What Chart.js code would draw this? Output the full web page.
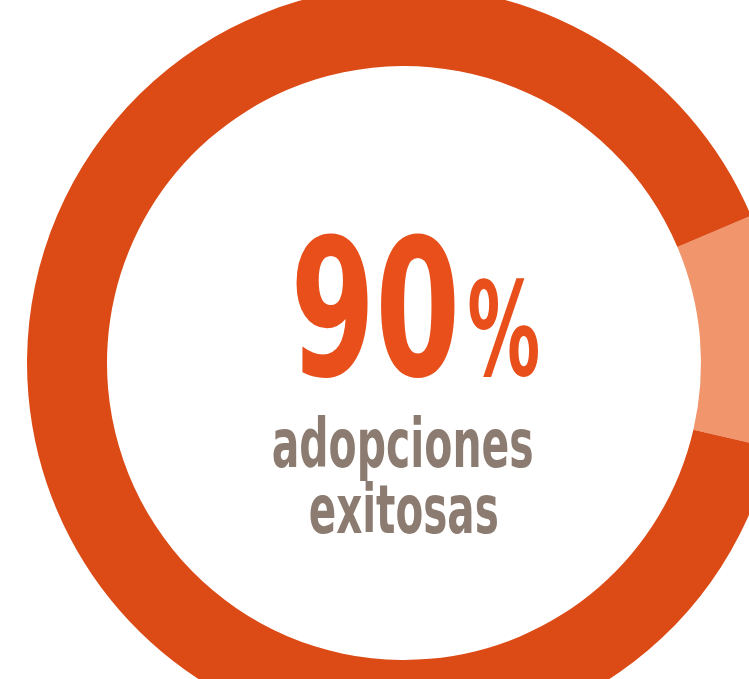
<!DOCTYPE html>
<html><head><meta charset="utf-8">
<script src="https://cdn.jsdelivr.net/npm/chart.js@4"></script>
<style>
html,body{margin:0;padding:0;background:#fff;}
#wrap{position:relative;width:749px;height:679px;overflow:hidden;background:#fff;}
#box{position:absolute;left:4px;top:-37px;width:800px;height:800px;}
#ov{position:absolute;left:0;top:0;}
</style></head><body>
<div id="wrap">
  <div id="box"><canvas id="c" width="800" height="800"></canvas></div>
  <svg id="ov" width="749" height="679" xmlns="http://www.w3.org/2000/svg"></svg>
</div>
<script>
// ---- data ----
const labels = ['Otras', 'Adopciones exitosas'];
const values = [10, 90];
const colors = ['#F0956C', '#DC4A16'];
const bigValue = '90';
const bigUnit = '%';
const captionLines = ['adopciones', 'exitosas'];

// ---- chart ----
new Chart(document.getElementById('c'), {
  type: 'doughnut',
  data: {
    labels: labels,
    datasets: [{
      data: values,
      backgroundColor: colors,
      borderWidth: 0,
      hoverOffset: 0
    }]
  },
  options: {
    responsive: false,
    animation: false,
    events: [],
    rotation: 67,
    radius: 377,
    cutout: (297 / 377 * 100) + '%',
    layout: { padding: 0 },
    plugins: { legend: { display: false }, tooltip: { enabled: false } }
  }
});

// ---- centre text (real SVG text, fitted to the reference ink boxes) ----
const NS = 'http://www.w3.org/2000/svg';
const ov = document.getElementById('ov');
const FAM = '"Liberation Sans Narrow", "DejaVu Sans Condensed", sans-serif';
const meas = document.createElement('canvas').getContext('2d');
function ink(text, fs) {
  meas.font = 'bold ' + fs + 'px ' + FAM;
  const m = meas.measureText(text);
  return { l: m.actualBoundingBoxLeft, r: m.actualBoundingBoxRight,
           a: m.actualBoundingBoxAscent, d: m.actualBoundingBoxDescent };
}
function put(text, fs, color, left, right, baseline) {
  const m = ink(text, fs);
  const sx = (right - left) / (m.l + m.r);
  const x = left + m.l * sx;
  const t = document.createElementNS(NS, 'text');
  t.setAttribute('transform', 'translate(' + x + ',' + baseline + ') scale(' + sx + ',1)');
  t.setAttribute('font-family', FAM);
  t.setAttribute('font-weight', 'bold');
  t.setAttribute('font-size', fs);
  t.setAttribute('fill', color);
  t.textContent = text;
  ov.appendChild(t);
}
function boxFit(text, color, left, right, top, bottom) {
  const m = ink(text, 100);
  const fs = 100 * (bottom - top) / (m.a + m.d);
  const k = fs / 100;
  put(text, fs, color, left, right, top + m.a * k);
}
// big number and unit
boxFit(bigValue, '#E84F1A', 296, 455, 232, 377);
boxFit(bigUnit, '#E84F1A', 469, 538, 277, 376);
// caption: font size from ascender of first line
const mc = ink(captionLines[0], 100);
const capFs = 100 * (467 - 415) / mc.a;
put(captionLines[0], capFs, '#8C7B70', 273, 532, 467);
put(captionLines[1], capFs, '#8C7B70', 310, 497, 533);
</script>
</body></html>
